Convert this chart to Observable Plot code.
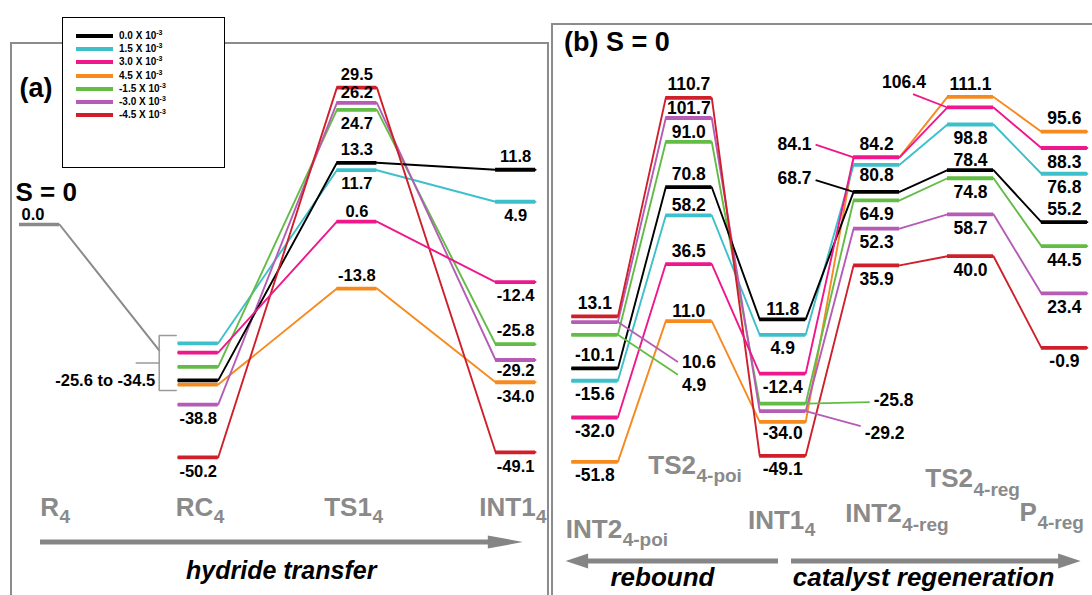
<!DOCTYPE html>
<html><head><meta charset="utf-8">
<script src="https://cdn.jsdelivr.net/npm/d3@7"></script>
<script src="https://cdn.jsdelivr.net/npm/@observablehq/plot@0.6"></script>
<style>
body{margin:0;background:#fff;}
#wrap{position:relative;width:1092px;height:595px;overflow:hidden;font-family:"Liberation Sans",Arial,Helvetica,sans-serif;background:#fff;}
.frame{position:absolute;border:2px solid #8c8c8c;box-sizing:border-box;}
#legend{position:absolute;left:62px;top:17px;width:163px;height:151px;border:1px solid #000;background:#fff;box-sizing:border-box;}
.lrow{position:absolute;left:0;height:14px;width:160px;}
.lsw{position:absolute;left:13px;top:5px;width:37px;height:4px;}
.ltx{position:absolute;left:56px;top:0;font-size:10px;font-weight:bold;line-height:14px;white-space:nowrap;}
.ltx sup{font-size:7px;vertical-align:4px;line-height:0;}
</style></head>
<body><div id="wrap">
<div class="frame" style="left:10px;top:42px;width:539px;height:600px;"></div>
<div class="frame" style="left:551px;top:23px;width:600px;height:600px;"></div>
</div>
<script>
// ---------------- data ----------------
const series = ["0.0", "1.5", "3.0", "4.5", "-1.5", "-3.0", "-4.5"];   // field x 10^-3
const colors = ["#000000", "#3ec0ca", "#ee178b", "#f68a1f", "#62bc45", "#b45cb6", "#cf1f2b"];

// panel (a): hydride transfer
const statesA = ["R", "RC", "TS1", "INT1"];
const statesASub = ["4", "4", "4", "4"];
const r4 = 0.0;
const rc4 = [-33.6, -25.6, -27.6, -34.5, -30.7, -38.8, -50.2];
const ts14 = [13.3, 11.7, 0.6, -13.8, 24.7, 26.2, 29.5];
const int14 = [11.8, 4.9, -12.4, -34.0, -25.8, -29.2, -49.1];
const rcRange = [-25.6, -34.5];

// panel (b): rebound / catalyst regeneration
const statesB = ["INT2", "TS2", "INT1", "INT2", "TS2", "P"];
const statesBSub = ["4-poi", "4-poi", "4", "4-reg", "4-reg", "4-reg"];
const int2poi = [-10.1, -15.6, -32.0, -51.8, 4.9, 10.6, 13.1];
const ts2poi = [70.8, 58.2, 36.5, 11.0, 91.0, 101.7, 110.7];
const int14b = [11.8, 4.9, -12.4, -34.0, -25.8, -29.2, -49.1];
const int2reg = [68.7, 80.8, 84.1, 84.2, 64.9, 52.3, 35.9];
const ts2reg = [78.4, 98.8, 106.4, 111.1, 74.8, 58.7, 40.0];
const p4reg = [55.2, 76.8, 88.3, 95.6, 44.5, 23.4, -0.9];

// ---------------- layout ----------------
const FONT = '"Liberation Sans", Arial, Helvetica, sans-serif';
const GRAY = "#8a8a8a";
const H = 595;
const geomA = {W: 550, x0: 39, step: 158.7, y0: 224, unit: 4.64, hw: 20};
const geomB = {W: 542, x0: 44.4, step: 93.9, y0: 345.3, unit: 2.24, hw: 23};
const drawOrder = [3, 1, 4, 5, 0, 6, 2];
const OFF = {t: -13, T: -10, b: 14, B: 11};
// label placement codes per state (index = series)
const codesA = [
  ["", "", "", "", "", "b", "b"],
  ["t", "b", "T", "t", "b", "T", "t"],
  ["t", "b", "b", "b", "t", "B", "b"]
];
const codesB = [
  ["t", "b", "b", "b", "", "", "t"],
  ["t", "T", "t", "T", "T", "T", "t"],
  ["T", "b", "b", "B", "", "", "b"],
  ["", "B", "", "t", "b", "b", "b"],
  ["T", "b", "", "t", "b", "b", "b"],
  ["t", "b", "b", "t", "b", "b", "b"]
];
// leader lines (pixel offsets from level end)
const leadersB = [
  {k: 0, s: 5, end: 1, dx: 60, dy: 40, tdx: 4, tdy: 0, anchor: "start"},
  {k: 0, s: 4, end: 1, dx: 60, dy: 40, tdx: 4, tdy: 11, anchor: "start"},
  {k: 2, s: 4, end: 1, dx: 64, dy: -1.5, tdx: 4, tdy: -2, anchor: "start"},
  {k: 2, s: 5, end: 1, dx: 55, dy: 15, tdx: 4, tdy: 7, anchor: "start"},
  {k: 3, s: 2, end: -1, dx: -38, dy: -12.7, tdx: -4, tdy: 0, anchor: "end"},
  {k: 3, s: 0, end: -1, dx: -38, dy: -11.7, tdx: -4, tdy: -1.5, anchor: "end"},
  {k: 4, s: 2, end: -1, dx: -34.5, dy: -13.4, tdx: -9, tdy: -12, anchor: "middle"}
];
// state label placement: junction offset from level centre, baseline, subscript baseline
const stateLayA = [[19.5, 515, 522], [15, 515, 522], [15, 515, 522], [20, 515, 522]];
const stateLayB = [[27.3, 537, 545], [7.2, 473, 481.5], [21.6, 528, 535], [25, 521.7, 530], [2.5, 486.7, 495], [-27.5, 520, 528]];

function scaleOpts(g) {
  return {
    x: {domain: [-g.x0 / g.step, (g.W - g.x0) / g.step], range: [0, g.W], axis: null},
    y: {domain: [(g.y0 - H) / g.unit, g.y0 / g.unit], range: [H, 0], axis: null}
  };
}

function energyMarks(g, stateArrays, startIdx, codes, fs) {
  const hw = g.hw / g.step;
  const rows = [];
  stateArrays.forEach((arr, k) => arr.forEach((v, s) => rows.push({state: k + startIdx, s, v, code: codes[k][s]})));
  const marks = [];
  for (const s of drawOrder) {
    const pts = rows.filter(d => d.s === s).sort((a, b) => a.state - b.state)
      .flatMap(d => [{x: d.state - hw, v: d.v}, {x: d.state + hw, v: d.v}]);
    marks.push(Plot.line(pts, {x: "x", y: "v", stroke: colors[s], strokeWidth: 1.9, strokeLinejoin: "miter"}));
  }
  for (const s of drawOrder) {
    marks.push(Plot.ruleY(rows.filter(d => d.s === s), {y: "v", x1: d => d.state - hw, x2: d => d.state + hw, stroke: colors[s], strokeWidth: 3.8}));
  }
  for (const [c, dy] of Object.entries(OFF)) {
    marks.push(Plot.text(rows.filter(d => d.code === c), {x: "state", y: "v", text: d => d.v.toFixed(1), dy,
      fontSize: fs, fontWeight: "bold", fontFamily: FONT, fill: "#000"}));
  }
  return marks;
}

function stateLabelMarks(names, subs, lay) {
  const marks = [];
  names.forEach((name, k) => {
    const [jx, base, sb] = lay[k];
    marks.push(Plot.text([k], {x: d => d, frameAnchor: "top", dx: jx, dy: base, text: () => name, textAnchor: "end", lineAnchor: "bottom",
      fontSize: 26, fontWeight: "bold", fontFamily: FONT, fill: GRAY}));
    marks.push(Plot.text([k], {x: d => d, frameAnchor: "top", dx: jx + 0.5, dy: sb, text: () => subs[k], textAnchor: "start", lineAnchor: "bottom",
      fontSize: 19, fontWeight: "bold", fontFamily: FONT, fill: GRAY}));
  });
  return marks;
}

function freeText(str, x, y, opts) {
  return Plot.text([str], {frameAnchor: "top-left", dx: x, dy: y, text: d => d, lineAnchor: "bottom", fontFamily: FONT, fontWeight: "bold", fill: "#000", ...opts});
}

function arrow(x1, x2, y, headLen, headHalf, w) {
  return () => {
    const dir = Math.sign(x2 - x1);
    const g = d3.create("svg:g");
    g.append("line").attr("x1", x1).attr("x2", x2 - dir * (headLen - 2)).attr("y1", y).attr("y2", y)
      .attr("stroke", "#858585").attr("stroke-width", w);
    g.append("path").attr("d", `M${x2},${y}L${x2 - dir * headLen},${y - headHalf}L${x2 - dir * headLen},${y + headHalf}Z`).attr("fill", "#858585");
    return g.node();
  };
}

// ---------------- panel (a) ----------------
(function () {
  const g = geomA, hw = g.hw / g.step;
  const marks = [];
  // R4 level + grey link to bracket
  const top = rcRange[0] + 1.7 * 4.64 / g.unit, bot = rcRange[1] - 1.3 * 4.64 / g.unit;
  const mid = (top + bot) / 2;
  const vx = 1 - hw - 19 / g.step;           // bracket spine
  const tipx = 1 - hw - 2 / g.step;
  const ptrx = vx - 23 / g.step;
  const joinY = top - 15 / g.unit;
  marks.push(Plot.line([{x: hw, v: r4}, {x: vx, v: joinY}], {x: "x", y: "v", stroke: GRAY, strokeWidth: 2}));
  marks.push(Plot.line([{x: tipx, v: top}, {x: vx, v: top}, {x: vx, v: bot}, {x: tipx, v: bot}], {x: "x", y: "v", stroke: "#9a9a9a", strokeWidth: 1.5, strokeLinejoin: "miter"}));
  marks.push(Plot.line([{x: vx, v: mid}, {x: ptrx, v: mid}], {x: "x", y: "v", stroke: "#9a9a9a", strokeWidth: 1.5}));
  marks.push(Plot.text([rcRange], {x: () => vx, y: () => mid, dx: -4, dy: 18, text: d => `${d[0].toFixed(1)} to ${d[1].toFixed(1)}`,
    textAnchor: "end", fontSize: 16.5, fontWeight: "bold", fontFamily: FONT, fill: "#000"}));
  marks.push(Plot.ruleY([r4], {y: d => d, x1: -hw, x2: hw, stroke: GRAY, strokeWidth: 3.5}));
  marks.push(Plot.text([r4], {x: 0, y: d => d, dx: -6.5, dy: -10, text: d => d.toFixed(1), fontSize: 16.5, fontWeight: "bold", fontFamily: FONT, fill: "#000"}));
  marks.push(...energyMarks(g, [rc4, ts14, int14], 1, codesA, 16.5));
  marks.push(...stateLabelMarks(statesA, statesASub, stateLayA));
  marks.push(arrow(40, 522.8, 542, 35, 6.5, 5));
  marks.push(freeText("hydride transfer", 280.7, 578, {textAnchor: "middle", fontSize: 25, fontStyle: "italic"}));
  marks.push(freeText("(a)", 19, 96, {textAnchor: "start", fontSize: 27}));
  marks.push(freeText("S = 0", 15, 200, {textAnchor: "start", fontSize: 26}));
  const svg = Plot.plot({width: g.W, height: H, margin: 0, ...scaleOpts(g), style: "background:none;overflow:visible;position:absolute;left:0;top:0;max-width:none;", marks});
  svg.style.position = "absolute"; svg.style.left = "0px"; svg.style.top = "0px";
  document.getElementById("wrap").appendChild(svg);
})();

// ---------------- panel (b) ----------------
(function () {
  const g = geomB, hw = g.hw / g.step;
  const arrays = [int2poi, ts2poi, int14b, int2reg, ts2reg, p4reg];
  const marks = [];
  marks.push(...energyMarks(g, arrays, 0, codesB, 17.5));
  const L = leadersB.map(l => {
    const v = arrays[l.k][l.s];
    const sx = l.k + l.end * hw;
    const ex = sx + l.dx / g.step, ey = v - l.dy / g.unit;
    return {s: l.s, v, sx, ex, ey, tx: ex + l.tdx / g.step, ty: ey - l.tdy / g.unit, anchor: l.anchor};
  });
  for (const d of L) {
    marks.push(Plot.link([d], {x1: "sx", y1: "v", x2: "ex", y2: "ey", stroke: colors[d.s], strokeWidth: 1.8}));
  }
  for (const a of ["start", "end", "middle"]) {
    marks.push(Plot.text(L.filter(d => d.anchor === a), {x: "tx", y: "ty", text: d => d.v.toFixed(1), textAnchor: a,
      fontSize: 17.5, fontWeight: "bold", fontFamily: FONT, fill: "#000"}));
  }
  marks.push(...stateLabelMarks(statesB, statesBSub, stateLayB));
  marks.push(arrow(228, 15.6, 561, 22.5, 7.5, 5));
  marks.push(arrow(241, 530.6, 561, 22.5, 7.5, 5));
  marks.push(freeText("rebound", 112, 585, {textAnchor: "middle", fontSize: 26, fontStyle: "italic"}));
  marks.push(freeText("catalyst regeneration", 373, 585, {textAnchor: "middle", fontSize: 26, fontStyle: "italic"}));
  marks.push(freeText("(b) S = 0", 13.5, 50, {textAnchor: "start", fontSize: 27}));
  const svg = Plot.plot({width: g.W, height: H, margin: 0, ...scaleOpts(g), style: "background:none;overflow:visible;max-width:none;", marks});
  svg.style.position = "absolute"; svg.style.left = "550px"; svg.style.top = "0px";
  document.getElementById("wrap").appendChild(svg);
})();

// ---------------- legend ----------------
(function () {
  const lg = document.createElement("div");
  lg.id = "legend";
  series.forEach((s, k) => {
    const row = document.createElement("div");
    row.className = "lrow";
    row.style.top = (11 + 13.2 * k) + "px";
    row.innerHTML = `<div class="lsw" style="background:${colors[k]}"></div><div class="ltx">${s} X 10<sup>-3</sup></div>`;
    lg.appendChild(row);
  });
  document.getElementById("wrap").appendChild(lg);
})();
</script>
</body></html>
